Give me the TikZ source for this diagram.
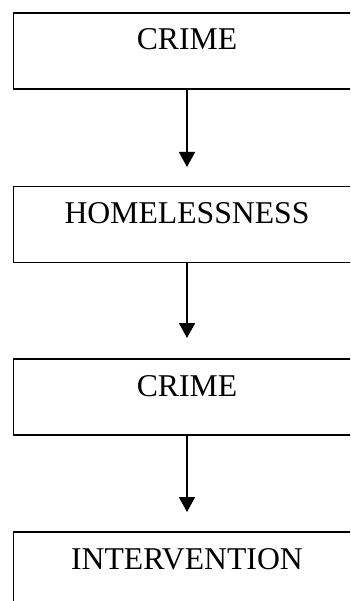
\documentclass[tikz,border=0pt]{standalone}
\usepackage{fontspec}
\setmainfont{Liberation Serif}
\usetikzlibrary{arrows.meta}
\begin{document}
\begin{tikzpicture}[x=1pt,y=-1pt,
  flowbox/.style={draw=black, line width=1.8pt, rectangle, minimum width=347pt,
    minimum height=76pt, inner sep=0pt, text height=22pt, text depth=24pt,
    font=\fontsize{31.7}{38}\selectfont},
  flowarrow/.style={line width=1.8pt, -{Triangle[width=16pt,length=15pt]}}]
\useasboundingbox (0,0) rectangle (350,601);
\clip (0,0) rectangle (350,601);
\fill[white] (0,0) rectangle (350,601);
\node[flowbox] (b1) at (187,51) {CRIME};
\node[flowbox] (b2) at (187,224.5) {HOMELESSNESS};
\node[flowbox] (b3) at (187,397) {CRIME};
\node[flowbox] (b4) at (187,570) {INTERVENTION};
\coordinate (t1) at (187,167);
\coordinate (t2) at (187,338);
\coordinate (t3) at (187,512);
\draw[flowarrow] (b1.south) -- (t1);
\draw[flowarrow] (b2.south) -- (t2);
\draw[flowarrow] (b3.south) -- (t3);
\end{tikzpicture}
\end{document}
